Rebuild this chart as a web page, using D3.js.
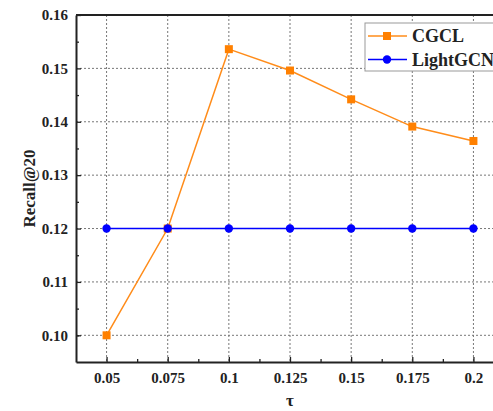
<!DOCTYPE html>
<html>
<head>
<meta charset="utf-8">
<script src="https://cdn.jsdelivr.net/npm/d3@7"></script>
<style>
  body { margin: 0; background: #fff; }
  svg { display: block; overflow: hidden; font-family: "Liberation Serif", "Times New Roman", serif; }
  .tick text { font-weight: bold; fill: #222; }
</style>
</head>
<body>
<div id="chart"></div>
<script>
const WIDTH = 493;
const HEIGHT = 411;

// tau values and series
const tau = [0.05, 0.075, 0.1, 0.125, 0.15, 0.175, 0.2];
const tauLabels = ["0.05", "0.075", "0.1", "0.125", "0.15", "0.175", "0.2"];
const cgcl = [0.1000, 0.1200, 0.1536, 0.1496, 0.1442, 0.1391, 0.1364];
const lightgcn = [0.1200, 0.1200, 0.1200, 0.1200, 0.1200, 0.1200, 0.1200];
const yTicks = [0.10, 0.11, 0.12, 0.13, 0.14, 0.15, 0.16];

const PLOT_LEFT = 76, PLOT_TOP = 15, PLOT_BOTTOM = 362, PLOT_RIGHT = 504;
const SERIF = "'Liberation Serif', 'Times New Roman', serif";

const x = d3.scaleLinear().domain([0.0375, 0.2125]).range([PLOT_LEFT, PLOT_RIGHT]);
const y = d3.scaleLinear().domain([0.095, 0.16]).range([PLOT_BOTTOM, PLOT_TOP]);

const svg = d3.select("#chart").append("svg")
  .attr("width", WIDTH)
  .attr("height", HEIGHT);

// dotted grid
svg.append("g").selectAll("line")
  .data(tau).enter().append("line")
  .attr("x1", d => x(d)).attr("x2", d => x(d))
  .attr("y1", PLOT_TOP).attr("y2", PLOT_BOTTOM)
  .attr("stroke", "#777").attr("stroke-width", 1)
  .attr("stroke-dasharray", "2,2");

svg.append("g").selectAll("line")
  .data(yTicks.slice(0, -1)).enter().append("line")
  .attr("x1", PLOT_LEFT).attr("x2", PLOT_RIGHT)
  .attr("y1", d => y(d)).attr("y2", d => y(d))
  .attr("stroke", "#777").attr("stroke-width", 1)
  .attr("stroke-dasharray", "2,2");

// minor ticks (inward)
const xMinor = tau.slice(0, -1).map((d, i) => (d + tau[i + 1]) / 2);
svg.append("g")
  .attr("transform", "translate(0," + PLOT_BOTTOM + ")")
  .call(d3.axisTop(x).tickValues(xMinor).tickSize(3).tickFormat(""))
  .call(g => g.select(".domain").remove())
  .call(g => g.selectAll("line").attr("stroke", "#222").attr("stroke-width", 1.3));

const yMinor = [0.095].concat(yTicks.slice(0, -1)).map(d => d + 0.005);
svg.append("g")
  .attr("transform", "translate(" + PLOT_LEFT + ",0)")
  .call(d3.axisRight(y).tickValues(yMinor).tickSize(3).tickFormat(""))
  .call(g => g.select(".domain").remove())
  .call(g => g.selectAll("line").attr("stroke", "#222").attr("stroke-width", 1.3));

// x axis
const xAxis = d3.axisBottom(x).tickValues(tau).tickSizeInner(-5).tickSizeOuter(0)
  .tickPadding(10).tickFormat((d, i) => tauLabels[i]);
svg.append("g")
  .attr("transform", "translate(0," + PLOT_BOTTOM + ")")
  .call(xAxis)
  .attr("font-family", SERIF).attr("font-size", 15)
  .call(g => g.select(".domain").attr("stroke", "#222").attr("stroke-width", 2))
  .call(g => g.selectAll(".tick line").attr("stroke", "#222").attr("stroke-width", 1.3));

// y axis
const yAxis = d3.axisLeft(y).tickValues(yTicks).tickSizeInner(-5).tickSizeOuter(0)
  .tickPadding(8).tickFormat(d3.format(".2f"));
svg.append("g")
  .attr("transform", "translate(" + PLOT_LEFT + ",0)")
  .call(yAxis)
  .attr("font-family", SERIF).attr("font-size", 15)
  .call(g => g.select(".domain").attr("stroke", "#222").attr("stroke-width", 2))
  .call(g => g.selectAll(".tick line").attr("stroke", "#222").attr("stroke-width", 1.3));

// top border
svg.append("line")
  .attr("x1", PLOT_LEFT).attr("x2", PLOT_RIGHT)
  .attr("y1", PLOT_TOP).attr("y2", PLOT_TOP)
  .attr("stroke", "#222").attr("stroke-width", 2);

// axis labels
svg.append("text")
  .attr("transform", "translate(35," + ((PLOT_TOP + PLOT_BOTTOM) / 2) + ") rotate(-90)")
  .attr("text-anchor", "middle")
  .style("font-size", "17px").style("font-weight", "bold").attr("fill", "#222")
  .text("Recall@20");

svg.append("text")
  .attr("x", x(0.125)).attr("y", 406)
  .attr("text-anchor", "middle")
  .style("font-size", "17px").style("font-weight", "bold").attr("fill", "#222")
  .text("τ");

// series
const line = d3.line().x((d, i) => x(tau[i])).y(d => y(d));

svg.append("path").datum(cgcl)
  .attr("d", line).attr("fill", "none")
  .attr("stroke", "#ff8c1a").attr("stroke-width", 1.5);

svg.append("path").datum(lightgcn)
  .attr("d", line).attr("fill", "none")
  .attr("stroke", "#0000ff").attr("stroke-width", 1.5);

svg.append("g").selectAll("rect")
  .data(cgcl).enter().append("rect")
  .attr("x", (d, i) => x(tau[i]) - 4)
  .attr("y", d => y(d) - 4)
  .attr("width", 8).attr("height", 8)
  .attr("fill", "#ff8000");

svg.append("g").selectAll("circle")
  .data(lightgcn).enter().append("circle")
  .attr("cx", (d, i) => x(tau[i]))
  .attr("cy", d => y(d))
  .attr("r", 4.2)
  .attr("fill", "#0000ff");

// legend
const legend = svg.append("g").attr("transform", "translate(365,23)");
legend.append("rect")
  .attr("width", 150).attr("height", 48)
  .attr("fill", "#fff").attr("stroke", "#999").attr("stroke-width", 1);

const entries = [
  { name: "CGCL", color: "#ff8c1a", mark: "square" },
  { name: "LightGCN", color: "#0000ff", mark: "circle" }
];
entries.forEach((e, i) => {
  const g = legend.append("g").attr("transform", "translate(0," + (13 + i * 23.5) + ")");
  g.append("line").attr("x1", 3).attr("x2", 42).attr("stroke", e.color).attr("stroke-width", 1.5);
  if (e.mark === "square") {
    g.append("rect").attr("x", 18).attr("y", -4).attr("width", 8).attr("height", 8).attr("fill", "#ff8000");
  } else {
    g.append("circle").attr("cx", 22).attr("r", 4.2).attr("fill", e.color);
  }
  g.append("text").attr("x", 47).attr("y", 6)
    .style("font-size", "18px").style("font-weight", "bold").attr("fill", "#222")
    .text(e.name);
});
</script>
</body>
</html>
